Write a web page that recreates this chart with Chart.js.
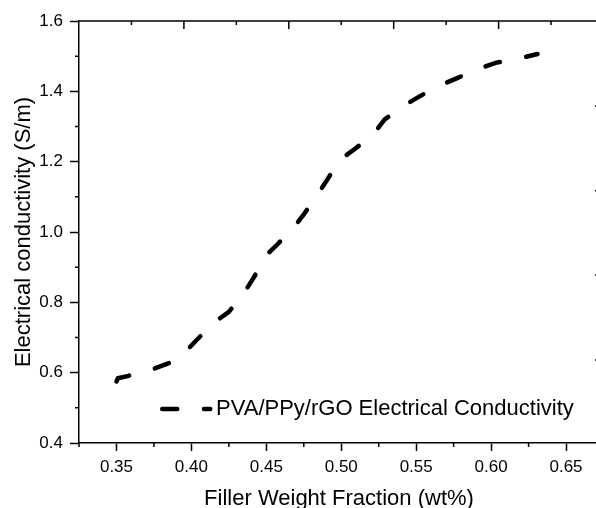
<!DOCTYPE html>
<html>
<head>
<meta charset="utf-8">
<title>PVA/PPy/rGO Electrical Conductivity</title>
<script src="https://cdn.jsdelivr.net/npm/chart.js@4.4.1/dist/chart.umd.min.js"></script>
<style>
  html, body { margin: 0; padding: 0; background: #fff; overflow: hidden; }
</style>
</head>
<body>
<canvas id="condChart" width="604" height="514"></canvas>
<script>
// -- values --
var fillerFraction = [0.350, 0.351, 0.358, 0.373, 0.385, 0.395, 0.404, 0.415, 0.425, 0.435,
                      0.442, 0.449, 0.457, 0.468, 0.475, 0.484, 0.491, 0.499, 0.509, 0.521,
                      0.529, 0.540, 0.552, 0.565, 0.577, 0.591, 0.603, 0.618, 0.631];
var conductivity   = [0.575, 0.584, 0.591, 0.608, 0.627, 0.655, 0.695, 0.742, 0.773, 0.826,
                      0.873, 0.930, 0.963, 1.011, 1.050, 1.105, 1.151, 1.205, 1.236, 1.276,
                      1.320, 1.355, 1.385, 1.415, 1.437, 1.463, 1.481, 1.493, 1.506];
var seriesLabel = "PVA/PPy/rGO Electrical Conductivity";

//	tick values (major ones carry labels)
var xTickVals    = [0.35, 0.40, 0.45, 0.50, 0.55, 0.60, 0.65];
var xMinorVals   = [0.325, 0.375, 0.425, 0.475, 0.525, 0.575, 0.625];
var yTickVals    = [0.4, 0.6, 0.8, 1.0, 1.2, 1.4, 1.6];
var yMinorVals   = [0.5, 0.7, 0.9, 1.1, 1.3, 1.5];
var topMajorVals = [0.395, 0.465, 0.535, 0.605];
var topMinorVals = [0.36, 0.43, 0.50, 0.57, 0.64];
var rightTickVals = [1.358, 1.117, 0.878, 0.636];

var fontFam = "'Liberation Sans', Arial, sans-serif";
Chart.defaults.font.family = fontFam;
Chart.defaults.color = "#000";

var points = fillerFraction.map(function (x, i) { return { x: x, y: conductivity[i] }; });

//	minor ticks, mirrored top/right ticks and the in-plot legend
var frameTicks = {
    id: 'frameTicks',
    afterDraw: function (chart) {
        var ctx = chart.ctx, a = chart.chartArea;
        var xs = chart.scales.x, ys = chart.scales.y;
        ctx.save();
        ctx.strokeStyle = "#000";
        ctx.lineWidth = 1.5;
        ctx.beginPath();
        xMinorVals.forEach(function (v) {
            var px = xs.getPixelForValue(v);
            ctx.moveTo(px, a.bottom); ctx.lineTo(px, a.bottom + 4);
        });
        yMinorVals.forEach(function (v) {
            var py = ys.getPixelForValue(v);
            ctx.moveTo(a.left - 4, py); ctx.lineTo(a.left, py);
        });
        //	top frame line
        ctx.moveTo(a.left, a.top); ctx.lineTo(a.right, a.top);
        topMajorVals.forEach(function (v) {
            var px = xs.getPixelForValue(v);
            ctx.moveTo(px, a.top); ctx.lineTo(px, a.top + 8);
        });
        topMinorVals.forEach(function (v) {
            var px = xs.getPixelForValue(v);
            ctx.moveTo(px, a.top); ctx.lineTo(px, a.top + 4);
        });
        rightTickVals.forEach(function (v) {
            var py = ys.getPixelForValue(v);
            ctx.moveTo(a.right, py); ctx.lineTo(a.right - 4, py);
        });
        ctx.stroke();

        //	legend entry
        var ds = chart.data.datasets[0];
        var lx = a.left + 83.25, ly = a.bottom - 34;
        ctx.lineWidth = ds.borderWidth;
        ctx.lineCap = ds.borderCapStyle;
        ctx.setLineDash(ds.borderDash);
        ctx.beginPath();
        ctx.moveTo(lx, ly); ctx.lineTo(lx + 48, ly);
        ctx.stroke();
        ctx.setLineDash([]);
        ctx.fillStyle = "#000";
        ctx.font = "22px " + fontFam;
        ctx.textBaseline = "middle";
        ctx.fillText(ds.label, lx + 53.75, ly);
        ctx.restore();
    }
};

var ctx = document.getElementById('condChart');
var condChart = new Chart(ctx, {
    type: 'scatter',
    data: {
        datasets: [{
            label: seriesLabel,
            data: points,
            showLine: true,
            pointRadius: 0,
            borderColor: "#000",
            borderWidth: 4.5,
            borderDash: [15, 26.7],
            borderCapStyle: 'round',
            tension: 0
        }]
    },
    options: {
        responsive: false,
        animation: false,
        layout: { padding: { left: 0, top: 21, right: 5, bottom: 0 } },
        plugins: {
            legend: { display: false },
            tooltip: { enabled: false }
        },
        scales: {
            x: {
                type: 'linear',
                min: 0.325,
                max: 0.672,
                afterBuildTicks: function (s) { s.ticks = xTickVals.map(function (v) { return { value: v }; }); },
                afterFit: function (s) { s.height = 71; },
                ticks: {
                    font: { size: 17 },
                    padding: 6,
                    maxRotation: 0,
                    callback: function (v) { return v.toFixed(2); }
                },
                grid: { drawOnChartArea: false, tickLength: 8, tickWidth: 1.5, tickColor: "#000" },
                border: { color: "#000", width: 1.5 },
                title: {
                    display: true,
                    text: "Filler Weight Fraction (wt%)",
                    font: { size: 22 },
                    padding: { top: 0, bottom: 2 }
                }
            },
            y: {
                min: 0.4,
                max: 1.6,
                afterBuildTicks: function (s) { s.ticks = yTickVals.map(function (v) { return { value: v }; }); },
                afterFit: function (s) { s.width = 79; },
                ticks: {
                    font: { size: 17 },
                    padding: 7,
                    callback: function (v) { return v.toFixed(1); }
                },
                grid: { drawOnChartArea: false, tickLength: 9, tickWidth: 1.5, tickColor: "#000" },
                border: { color: "#000", width: 1.5 },
                title: {
                    display: true,
                    text: "Electrical conductivity (S/m)",
                    font: { size: 22 },
                    padding: { top: 11, bottom: 0 }
                }
            }
        }
    },
    plugins: [frameTicks]
});
</script>
</body>
</html>
